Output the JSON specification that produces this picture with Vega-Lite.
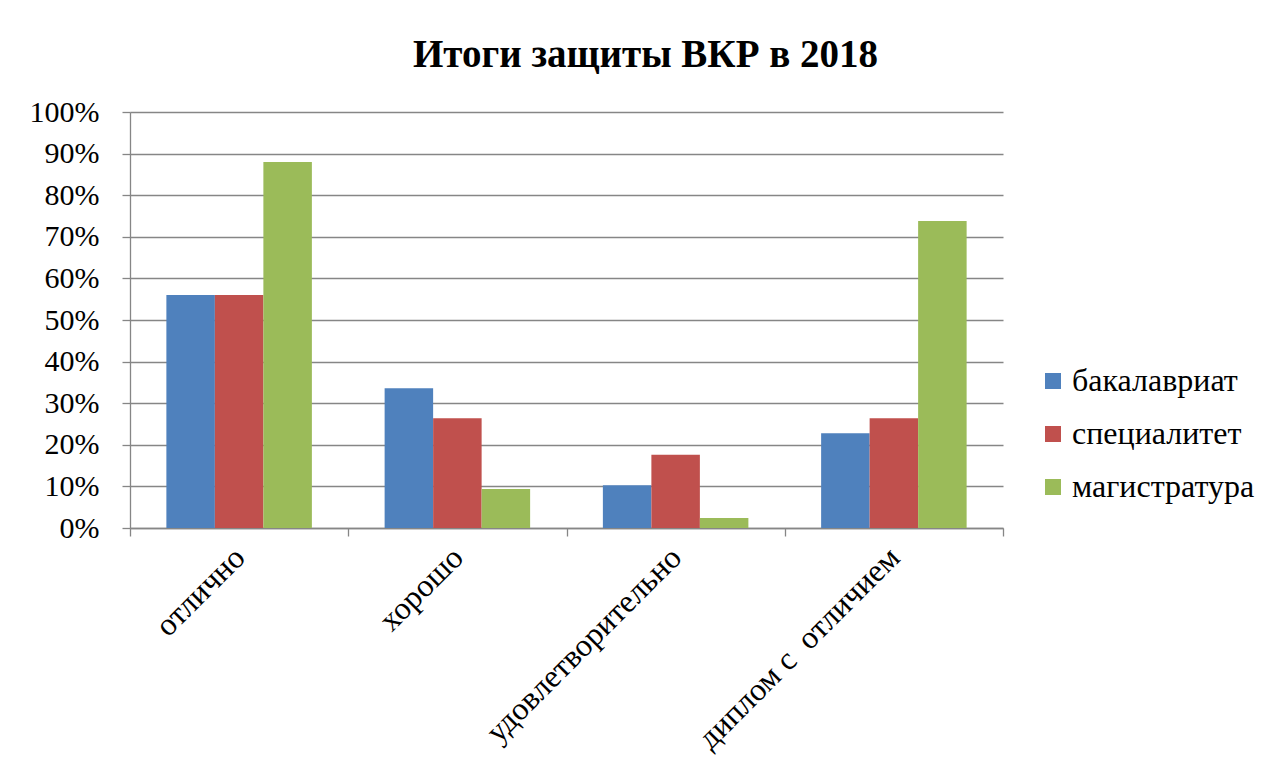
{
  "$schema": "https://vega.github.io/schema/vega-lite/v6.json",
  "autosize": {"type": "none"},
  "width": 873,
  "height": 416,
  "padding": {"left": 130, "top": 112, "right": 266, "bottom": 246},
  "background": "white",
  "title": {
    "text": "Итоги защиты ВКР в 2018",
    "font": "Liberation Serif",
    "fontSize": 39,
    "fontWeight": "bold",
    "color": "black",
    "anchor": "middle",
    "dx": 79,
    "offset": 22
  },
  "data": {
    "values": [
      {"cat": "отлично", "series": "бакалавриат", "value": 0.56},
      {"cat": "отлично", "series": "специалитет", "value": 0.56},
      {"cat": "отлично", "series": "магистратура", "value": 0.88},
      {"cat": "хорошо", "series": "бакалавриат", "value": 0.336},
      {"cat": "хорошо", "series": "специалитет", "value": 0.264},
      {"cat": "хорошо", "series": "магистратура", "value": 0.094},
      {"cat": "удовлетворительно", "series": "бакалавриат", "value": 0.103},
      {"cat": "удовлетворительно", "series": "специалитет", "value": 0.176},
      {"cat": "удовлетворительно", "series": "магистратура", "value": 0.024},
      {"cat": "диплом с\u00a0 отличием", "series": "бакалавриат", "value": 0.228},
      {"cat": "диплом с\u00a0 отличием", "series": "специалитет", "value": 0.264},
      {"cat": "диплом с\u00a0 отличием", "series": "магистратура", "value": 0.738}
    ]
  },
  "mark": {"type": "bar"},
  "encoding": {
    "x": {
      "field": "cat",
      "type": "nominal",
      "sort": ["отлично", "хорошо", "удовлетворительно", "диплом с\u00a0 отличием"],
      "scale": {"paddingInner": 0, "paddingOuter": 0},
      "axis": {
        "title": null,
        "labelAngle": -45,
        "labelAlign": "right",
        "labelBaseline": "middle",
        "labelFont": "Liberation Serif",
        "labelFontSize": 32,
        "labelColor": "black",
        "labelPadding": 16,
        "labelLimit": 400,
        "tickBand": "extent",
        "tickSize": 8,
        "tickColor": "#868686",
        "domainColor": "#868686",
        "grid": false
      }
    },
    "xOffset": {
      "field": "series",
      "type": "nominal",
      "sort": ["бакалавриат", "специалитет", "магистратура"],
      "scale": {"paddingInner": 0, "paddingOuter": 0.75}
    },
    "y": {
      "field": "value",
      "type": "quantitative",
      "scale": {"domain": [0, 1], "nice": false},
      "axis": {
        "title": null,
        "values": [0, 0.1, 0.2, 0.3, 0.4, 0.5, 0.6, 0.7, 0.8, 0.9, 1],
        "format": ".0%",
        "labelFont": "Liberation Serif",
        "labelFontSize": 30,
        "labelColor": "black",
        "labelPadding": 23,
        "tickSize": 8,
        "tickColor": "#868686",
        "domainColor": "#868686",
        "gridColor": "#868686",
        "gridWidth": 1.3
      }
    },
    "color": {
      "field": "series",
      "type": "nominal",
      "sort": ["бакалавриат", "специалитет", "магистратура"],
      "scale": {"range": ["#4F81BD", "#C0504D", "#9BBB59"]},
      "legend": {
        "title": null,
        "orient": "none",
        "legendX": 907,
        "legendY": 253,
        "symbolType": "square",
        "symbolSize": 256,
        "symbolStrokeWidth": 0,
        "symbolOpacity": 1,
        "labelFont": "Liberation Serif",
        "labelFontSize": 32,
        "labelColor": "black",
        "labelOffset": 3,
        "labelLimit": 300,
        "rowPadding": 21
      }
    }
  },
  "config": {
    "view": {"stroke": null},
    "axis": {"domainWidth": 1.3, "tickWidth": 1.3}
  }
}
